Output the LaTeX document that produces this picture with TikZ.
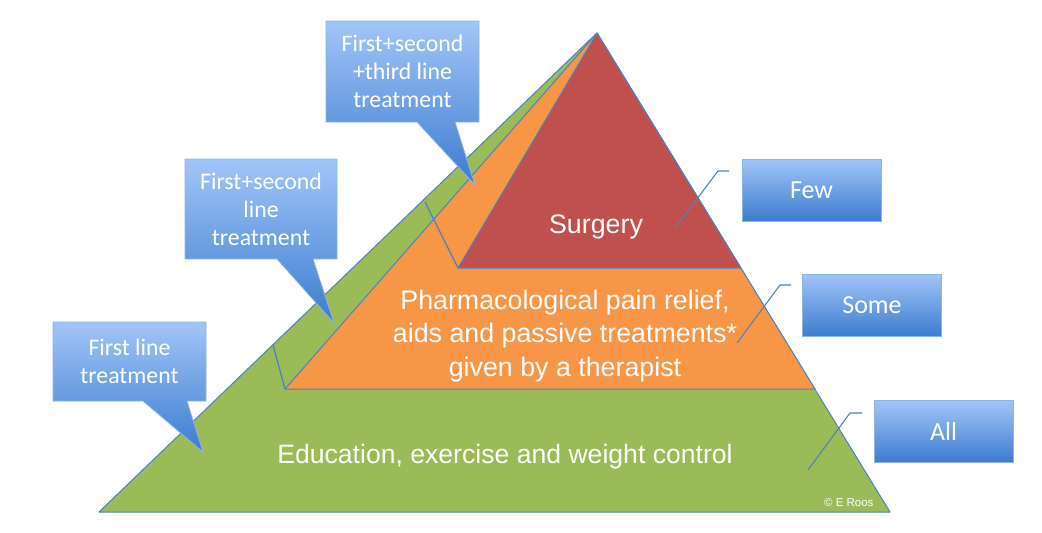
\documentclass[tikz,border=0pt]{standalone}
\usepackage{fontspec}
\setmainfont{Liberation Sans}
\newfontfamily\calfont{Carlito}
\definecolor{pgreen}{HTML}{9BBB59}
\definecolor{porange}{HTML}{F79646}
\definecolor{pred}{HTML}{C0504D}
\definecolor{pline}{HTML}{4F81BD}
\definecolor{cbtop}{HTML}{A2C5F8}
\definecolor{cbbot}{HTML}{3C7CCF}
\definecolor{cbline}{HTML}{8DB4E6}
\begin{document}
\begin{tikzpicture}[x=1pt,y=-1pt,
  layer/.style={draw=pline,line width=1pt,line join=round},
  leader/.style={draw=pline,line width=1.3pt},
  callout/.style={top color=cbtop,bottom color=cbbot,draw=cbline,line width=0.8pt},
  ctext/.style={text=white,align=center,font=\calfont\fontsize{23.8}{28}\selectfont},
  valbox/.style={top color=cbtop,bottom color=cbbot,draw=cbline,line width=0.8pt,
    minimum width=139pt,minimum height=62pt,inner sep=0pt,text=white,
    font=\calfont\fontsize{26}{30}\selectfont},
  ptext/.style={text=white,align=center,font=\fontsize{26.8}{33.5}\selectfont}]
\fill[white] (0,0) rectangle (1042,533);
\useasboundingbox (0,0) rectangle (1042,533);
% pyramid corners
\coordinate (apex) at (597,33);
\coordinate (gl) at (99,512);
\coordinate (gr) at (890,512);
\coordinate (ol) at (285,389);
\coordinate (or) at (815,389);
\coordinate (rl) at (458,268);
\coordinate (rr) at (741,268);
\fill[pgreen] (apex) -- (gl) -- (gr) -- cycle;
\draw[layer] (apex) -- (gl) -- (gr) -- cycle;
\fill[porange] (apex) -- (ol) -- (or) -- cycle;
\draw[layer] (apex) -- (ol) -- (or) -- cycle;
\fill[pred] (apex) -- (rl) -- (rr) -- cycle;
\draw[layer] (apex) -- (rl) -- (rr) -- cycle;
% left leader lines
\coordinate (gl1) at (273,345);
\coordinate (gl2) at (425,202);
\draw[leader] (gl1) -- (ol);
\draw[leader] (gl2) -- (rl);
% pyramid texts
\node[ptext] (surg) at (596,227) {Surgery};
\node[ptext] (pharm) at (565,336) {Pharmacological pain relief,\\aids and passive treatments*\\given by a therapist};
\node[ptext,font=\fontsize{26.6}{33.5}\selectfont] (edu) at (505,457) {Education, exercise and weight control};
\node[text=white,anchor=east,font=\fontsize{11.5}{13}\selectfont] (copy) at (877,503) {© E Roos};
% callouts
\path[callout] (326,21) -- (479,21) -- (479,122) -- (455,122) -- (475,185) -- (417,122) -- (326,122) -- cycle;
\node[ctext] (c3) at (402.5,71.5) {First+second\\+third line\\treatment};
\path[callout] (185,159) -- (337,159) -- (337,259) -- (313,259) -- (334,323) -- (277,259) -- (185,259) -- cycle;
\node[ctext] (c2) at (261,209) {First+second\\line\\treatment};
\path[callout] (53,322) -- (206,322) -- (206,401) -- (187,401) -- (203,452) -- (143,401) -- (53,401) -- cycle;
\node[ctext] (c1) at (129.5,361.5) {First line\\treatment};
% value boxes
\node[valbox] (few) at (811.5,190) {Few};
\node[valbox] (some) at (872,305) {Some};
\node[valbox] (all) at (943.5,431.5) {All};
% right leader lines
\coordinate (f1) at (675,228); \coordinate (f2) at (718,171); \coordinate (f3) at (729,171);
\coordinate (s1) at (737,343); \coordinate (s2) at (780,285); \coordinate (s3) at (791,285);
\coordinate (a1) at (808,470); \coordinate (a2) at (850,413); \coordinate (a3) at (862,413);
\draw[draw=pline,line width=1.1pt] (f1) -- (f2) -- (f3);
\draw[draw=pline,line width=1.1pt] (s1) -- (s2) -- (s3);
\draw[draw=pline,line width=1.1pt] (a1) -- (a2) -- (a3);
\end{tikzpicture}
\end{document}
